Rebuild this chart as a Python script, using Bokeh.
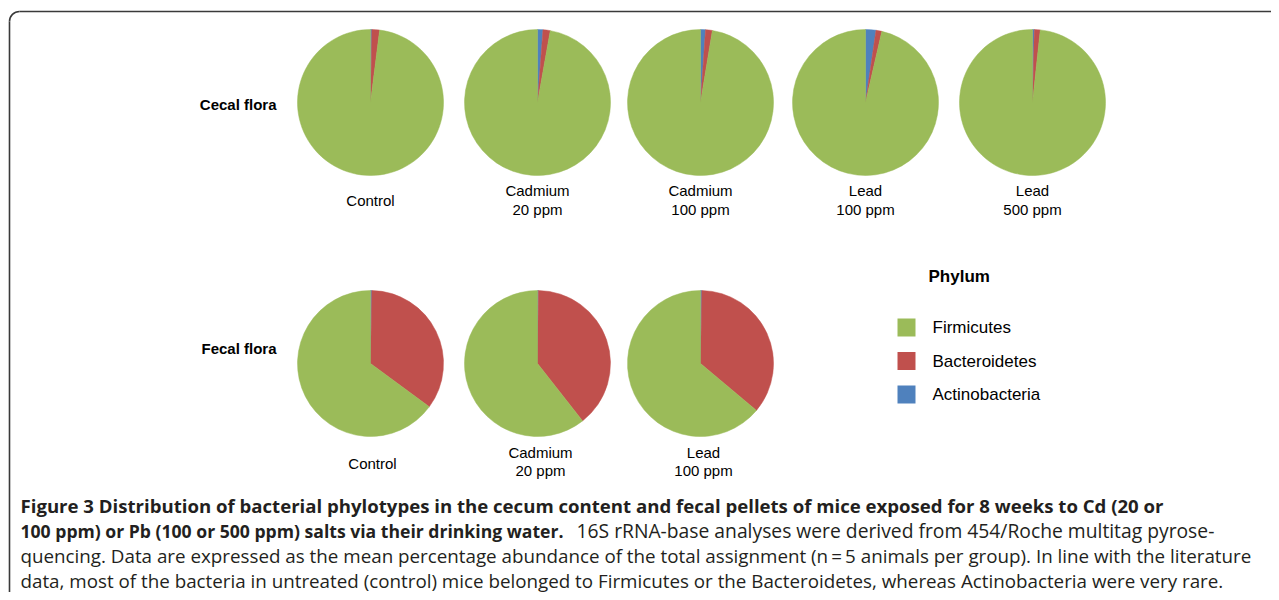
import math
from bokeh.plotting import figure
from bokeh.models import Range1d, ColumnDataSource
from bokeh.core.properties import value
from bokeh.embed import file_html
from bokeh.resources import INLINE

# ---------------- data ----------------
phyla = ["Firmicutes", "Bacteroidetes", "Actinobacteria"]
phylum_colors = ["#9BBB59", "#C0504D", "#4F81BD"]

cecal_names = ["Control", "Cadmium", "Cadmium", "Lead", "Lead"]
cecal_doses = ["", "20 ppm", "100 ppm", "100 ppm", "500 ppm"]
cecal_firmicutes = [98.0, 97.2, 97.4, 96.4, 98.3]
cecal_bacteroidetes = [1.7, 1.6, 1.5, 1.3, 1.3]
cecal_actinobacteria = [0.3, 1.2, 1.1, 2.3, 0.4]

fecal_names = ["Control", "Cadmium", "Lead"]
fecal_doses = ["", "20 ppm", "100 ppm"]
fecal_firmicutes = [64.9, 60.6, 63.9]
fecal_bacteroidetes = [34.8, 39.2, 35.8]
fecal_actinobacteria = [0.3, 0.2, 0.3]

row_titles = ["Cecal flora", "Fecal flora"]
legend_title = "Phylum"

caption_bold_1 = "Figure 3 Distribution of bacterial phylotypes in the cecum content and fecal pellets of mice exposed for 8 weeks to Cd (20 or"
caption_bold_2 = "100 ppm) or Pb (100 or 500 ppm) salts via their drinking water."
caption_normal_2 = "16S rRNA-base analyses were derived from 454/Roche multitag pyrose-"
caption_normal_3 = "quencing. Data are expressed as the mean percentage abundance of the total assignment (n\u2009=\u20095 animals per group). In line with the literature"
caption_normal_4 = "data, most of the bacteria in untreated (control) mice belonged to Firmicutes or the Bacteroidetes, whereas Actinobacteria were very rare."

# ---------------- layout ----------------
W, H = 1271, 592
p = figure(width=W, height=H, x_range=Range1d(0, W), y_range=Range1d(-H, 0),
           output_backend="svg", toolbar_location=None, min_border=0)
p.axis.visible = False
p.grid.visible = False
p.outline_line_color = None
p.background_fill_color = "white"
p.border_fill_color = "white"

# frame (rounded top-left corner, clipped on right/bottom)
frame_col = "#3a3a3a"
p.line(x=[9, 9], y=[-600, -21], line_color=frame_col, line_width=1.6)
p.line(x=[19, 1279], y=[-11, -11], line_color=frame_col, line_width=1.6)
p.arc(x=[19], y=[-21], radius=10, start_angle=math.pi / 2, end_angle=math.pi,
      line_color=frame_col, line_width=1.6)

FONT = value("Liberation Sans")
R = 73

def draw_pies(xs, yc, firm, bact, acti):
    rows = dict(x=[], y=[], s=[], e=[], c=[])
    for i, xc in enumerate(xs):
        vals = [acti[i], bact[i], firm[i]]
        cols = [phylum_colors[2], phylum_colors[1], phylum_colors[0]]
        tot = sum(vals)
        cum = 0.0
        for v, col in zip(vals, cols):
            a0 = math.pi / 2 - 2 * math.pi * cum / tot
            cum += v
            a1 = math.pi / 2 - 2 * math.pi * cum / tot
            rows["x"].append(xc); rows["y"].append(-yc)
            rows["s"].append(a0); rows["e"].append(a1); rows["c"].append(col)
    src = ColumnDataSource(rows)
    p.wedge(x="x", y="y", radius=R, radius_units="screen", start_angle="s", end_angle="e",
            direction="clock", fill_color="c", line_color="c", line_width=0.5, source=src)

def draw_labels(xs, names, doses, y_single, y1, y2):
    for xc, n, d in zip(xs, names, doses):
        if d:
            p.text(x=[xc], y=[-y1], text=[n], text_font=FONT, text_font_size="15px",
                   text_align="center", text_baseline="middle", text_color="black")
            p.text(x=[xc], y=[-y2], text=[d], text_font=FONT, text_font_size="15px",
                   text_align="center", text_baseline="middle", text_color="black")
        else:
            p.text(x=[xc], y=[-y_single], text=[n], text_font=FONT, text_font_size="15px",
                   text_align="center", text_baseline="middle", text_color="black")

cecal_x = [370, 537, 700, 865, 1032]
fecal_x = [370, 537, 700]

draw_pies(cecal_x, 102, cecal_firmicutes, cecal_bacteroidetes, cecal_actinobacteria)
draw_pies(fecal_x, 363, fecal_firmicutes, fecal_bacteroidetes, fecal_actinobacteria)
draw_labels(cecal_x, cecal_names, cecal_doses, 200, 190, 209)
draw_labels([372, 540, 703], fecal_names, fecal_doses, 463, 452, 470)

# row titles
for t, yy in zip(row_titles, [104, 348]):
    p.text(x=[276], y=[-yy], text=[t], text_font=FONT, text_font_size="15px",
           text_font_style="bold", text_align="right", text_baseline="middle", text_color="black")

# legend
p.text(x=[928], y=[-276], text=[legend_title], text_font=FONT, text_font_size="17px",
       text_font_style="bold", text_align="left", text_baseline="middle", text_color="black")
for i, (name, col) in enumerate(zip(phyla, phylum_colors)):
    yy = 327 + 33.5 * i
    p.rect(x=[906], y=[-yy], width=18, height=18, width_units="screen", height_units="screen",
           fill_color=col, line_color=None)
    p.text(x=[932], y=[-yy], text=[name], text_font=FONT, text_font_size="17px",
           text_align="left", text_baseline="middle", text_color="black")

# caption
CAPF = value("Open Sans")
cap_col = "#231f20"
p.text(x=[20], y=[-505], text=[caption_bold_1], text_font=CAPF, text_font_size="18.6px",
       text_font_style="bold", text_align="left", text_baseline="middle", text_color=cap_col)
p.text(x=[20], y=[-530], text=[caption_bold_2], text_font=CAPF, text_font_size="17.6px",
       text_font_style="bold", text_align="left", text_baseline="middle", text_color=cap_col)
p.text(x=[576], y=[-530], text=[caption_normal_2], text_font=CAPF, text_font_size="19.3px",
       text_align="left", text_baseline="middle", text_color=cap_col)
p.text(x=[20], y=[-555], text=[caption_normal_3], text_font=CAPF, text_font_size="18.8px",
       text_align="left", text_baseline="middle", text_color=cap_col)
p.text(x=[20], y=[-580], text=[caption_normal_4], text_font=CAPF, text_font_size="18.8px",
       text_align="left", text_baseline="middle", text_color=cap_col)

open("out.html", "w").write(file_html(p, INLINE))
